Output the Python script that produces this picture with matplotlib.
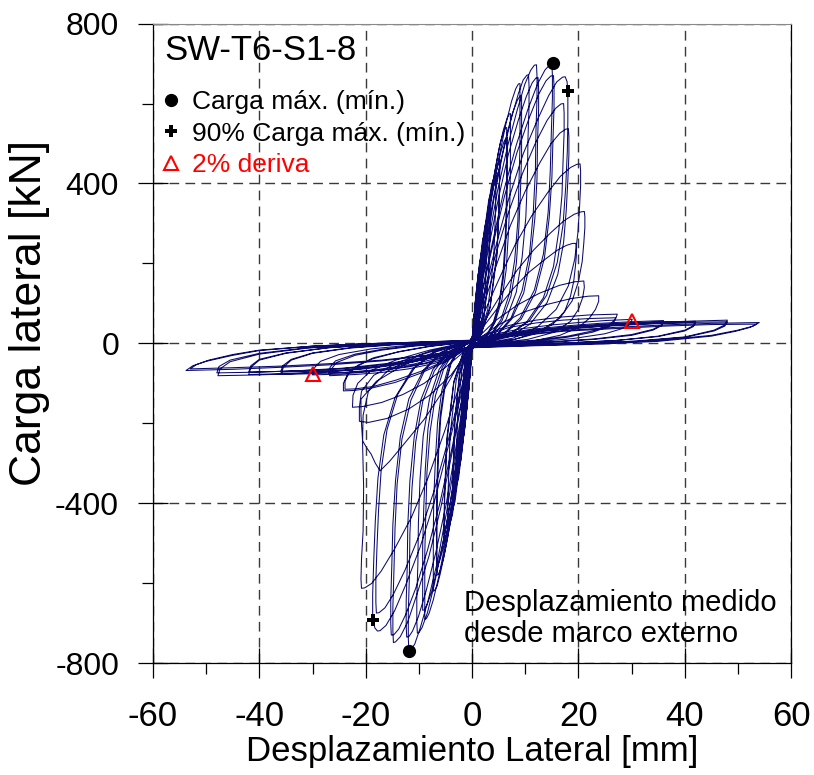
import matplotlib
matplotlib.use("Agg")
import matplotlib.pyplot as plt

# ---------------- data ----------------
x_ticks = [-60, -40, -20, 0, 20, 40, 60]
y_ticks = [-800, -400, 0, 400, 800]
x_minor = [-50, -30, -10, 10, 30, 50]
y_minor = [-600, -200, 200, 600]

# small-amplitude cycles (displacement mm, load kN)
ciclos_elasticos = [
    [(0.0, 4), (0.3, 55), (0.6, 95), (0.8, 110), (0.8, 88), (0.7, 55), (0.5, 22), (0.2, 4), (0.0, 0),
     (0.0, -5), (-0.3, -60), (-0.6, -103), (-0.8, -120), (-0.8, -96), (-0.7, -60), (-0.5, -24), (-0.2, -5), (0.0, 0)],
    [(0.0, 5), (0.35, 68), (0.7, 116), (1.0, 135), (1.0, 108), (0.9, 68), (0.65, 27), (0.3, 5), (0.05, 0),
     (0.0, -6), (-0.35, -75), (-0.7, -129), (-1.0, -150), (-1.0, -120), (-0.9, -75), (-0.65, -30), (-0.3, -6), (-0.05, 0)],
    [(0.0, 5), (0.35, 64), (0.7, 110), (1.0, 128), (1.0, 102), (0.9, 64), (0.65, 26), (0.3, 5), (0.05, 0),
     (0.0, -6), (-0.35, -71), (-0.7, -122), (-1.0, -142), (-1.0, -114), (-0.9, -71), (-0.65, -28), (-0.3, -6), (-0.05, 0)],
    [(0.05, 8), (0.56, 100), (1.12, 172), (1.6, 200), (1.57, 160), (1.44, 100), (1.04, 40), (0.48, 8), (0.08, 0),
     (-0.05, -9), (-0.6, -110), (-1.19, -189), (-1.7, -220), (-1.67, -176), (-1.53, -110), (-1.1, -44), (-0.51, -9), (-0.09, 0)],
    [(0.06, 9), (0.7, 118), (1.4, 202), (2.0, 235), (1.96, 188), (1.8, 118), (1.3, 47), (0.6, 9), (0.1, 0),
     (-0.06, -10), (-0.74, -130), (-1.47, -224), (-2.1, -260), (-2.06, -208), (-1.89, -130), (-1.37, -52), (-0.63, -10), (-0.1, 0)],
    [(0.06, 9), (0.7, 111), (1.4, 191), (2.0, 222), (1.96, 178), (1.8, 111), (1.3, 44), (0.6, 9), (0.1, 0),
     (-0.06, -10), (-0.74, -123), (-1.47, -211), (-2.1, -245), (-2.06, -196), (-1.89, -123), (-1.37, -49), (-0.63, -10), (-0.1, 0)],
    [(0.08, 12), (0.98, 150), (1.96, 258), (2.8, 300), (2.74, 240), (2.52, 150), (1.82, 60), (0.84, 12), (0.14, 0),
     (-0.09, -14), (-1.05, -170), (-2.1, -292), (-3.0, -340), (-2.94, -272), (-2.7, -170), (-1.95, -68), (-0.9, -14), (-0.15, 0)],
    [(0.1, 14), (1.19, 170), (2.38, 292), (3.4, 340), (3.33, 272), (3.06, 170), (2.21, 68), (1.02, 14), (0.17, 0),
     (-0.11, -16), (-1.26, -195), (-2.52, -335), (-3.6, -390), (-3.53, -312), (-3.24, -195), (-2.34, -78), (-1.08, -16), (-0.18, 0)],
    [(0.1, 13), (1.19, 161), (2.38, 277), (3.4, 322), (3.33, 258), (3.06, 161), (2.21, 64), (1.02, 13), (0.17, 0),
     (-0.11, -15), (-1.26, -185), (-2.52, -318), (-3.6, -370), (-3.53, -296), (-3.24, -185), (-2.34, -74), (-1.08, -15), (-0.18, 0)],
    [(0.14, 17), (1.58, 210), (3.15, 361), (4.5, 420), (4.41, 336), (4.05, 210), (2.93, 84), (1.35, 17), (0.23, 0),
     (-0.14, -18), (-1.61, -230), (-3.22, -396), (-4.6, -460), (-4.51, -368), (-4.14, -230), (-2.99, -92), (-1.38, -18), (-0.23, 0)],
    [(0.16, 18), (1.82, 230), (3.64, 396), (5.2, 460), (5.1, 368), (4.68, 230), (3.38, 92), (1.56, 18), (0.26, 0),
     (-0.16, -20), (-1.86, -250), (-3.71, -430), (-5.3, -500), (-5.19, -400), (-4.77, -250), (-3.45, -100), (-1.59, -20), (-0.27, 0)],
    [(0.16, 18), (1.82, 220), (3.64, 378), (5.2, 440), (5.1, 352), (4.68, 220), (3.38, 88), (1.56, 18), (0.26, 0),
     (-0.16, -19), (-1.86, -239), (-3.71, -411), (-5.3, -478), (-5.19, -382), (-4.77, -239), (-3.45, -96), (-1.59, -19), (-0.27, 0)],
]

# cycles around peak load
ciclos_pico = [
    [(0.2, 22), (0.8, 97), (1.6, 194), (2.6, 297), (3.6, 383), (4.6, 454), (5.3, 502), (5.9, 529), (6.3, 539), (6.5, 540),
     (6.5, 518), (6.5, 475), (6.5, 410), (6.4, 335), (6.2, 254), (5.8, 173), (5.1, 103), (3.9, 49), (2.5, 16), (1.0, 3), (0.2, -3),
     (-0.2, -23), (-0.8, -104), (-1.7, -209), (-2.6, -319), (-3.6, -412), (-4.6, -487), (-5.4, -539), (-6.0, -568), (-6.4, -579), (-6.6, -580),
     (-6.6, -557), (-6.6, -510), (-6.6, -441), (-6.5, -360), (-6.3, -273), (-5.9, -186), (-5.1, -110), (-4.0, -52), (-2.5, -17), (-1.1, -3), (-0.2, 3)],
    [(0.2, 21), (0.8, 93), (1.7, 185), (2.6, 283), (3.6, 366), (4.6, 433), (5.4, 479), (6.0, 505), (6.4, 514), (6.6, 515),
     (6.6, 494), (6.6, 453), (6.6, 391), (6.5, 319), (6.3, 242), (5.9, 165), (5.1, 98), (4.0, 46), (2.5, 15), (1.1, 3), (0.2, -3),
     (-0.2, -22), (-0.8, -100), (-1.7, -200), (-2.7, -305), (-3.7, -394), (-4.7, -466), (-5.5, -516), (-6.1, -544), (-6.5, -554), (-6.7, -555),
     (-6.7, -533), (-6.7, -488), (-6.7, -422), (-6.6, -344), (-6.4, -261), (-6.0, -178), (-5.2, -105), (-4.0, -50), (-2.5, -17), (-1.1, -3), (-0.2, 3)],
    [(0.2, 23), (0.9, 104), (1.8, 207), (2.9, 316), (4.0, 408), (5.0, 483), (5.9, 535), (6.6, 564), (7.0, 574), (7.2, 575),
     (7.2, 552), (7.2, 506), (7.2, 437), (7.1, 357), (6.8, 270), (6.4, 184), (5.6, 109), (4.3, 52), (2.7, 17), (1.2, 3), (0.2, -3),
     (-0.2, -25), (-0.9, -112), (-1.8, -223), (-2.9, -341), (-4.0, -440), (-5.1, -521), (-6.0, -577), (-6.6, -608), (-7.1, -619), (-7.3, -620),
     (-7.3, -595), (-7.3, -546), (-7.3, -471), (-7.2, -384), (-6.9, -291), (-6.5, -198), (-5.7, -118), (-4.4, -56), (-2.8, -19), (-1.2, -3), (-0.2, 3)],
    [(0.3, 26), (1.1, 117), (2.3, 234), (3.6, 358), (5.0, 462), (6.3, 546), (7.4, 605), (8.2, 637), (8.7, 649), (9.0, 650),
     (9.0, 624), (9.0, 572), (9.0, 494), (8.8, 403), (8.6, 306), (8.0, 208), (7.0, 124), (5.4, 59), (3.4, 20), (1.4, 3), (0.3, -3),
     (-0.3, -28), (-1.1, -124), (-2.2, -248), (-3.6, -380), (-4.9, -490), (-6.2, -580), (-7.3, -642), (-8.1, -676), (-8.6, -689), (-8.9, -690),
     (-8.9, -662), (-8.9, -607), (-8.9, -524), (-8.7, -428), (-8.5, -324), (-7.9, -221), (-6.9, -131), (-5.3, -62), (-3.4, -21), (-1.4, -3), (-0.3, 3)],
    [(0.3, 25), (1.1, 112), (2.3, 223), (3.7, 341), (5.1, 440), (6.5, 521), (7.6, 577), (8.5, 608), (9.0, 619), (9.3, 620),
     (9.3, 595), (9.3, 546), (9.3, 471), (9.1, 384), (8.8, 291), (8.3, 198), (7.3, 118), (5.6, 56), (3.5, 19), (1.5, 3), (0.3, -3),
     (-0.3, -27), (-1.1, -120), (-2.3, -240), (-3.7, -367), (-5.1, -474), (-6.5, -561), (-7.6, -621), (-8.5, -655), (-9.0, -667), (-9.3, -668),
     (-9.3, -641), (-9.3, -588), (-9.3, -508), (-9.1, -414), (-8.8, -314), (-8.3, -214), (-7.3, -127), (-5.6, -60), (-3.5, -20), (-1.5, -3), (-0.3, 3)],
    [(0.3, 27), (1.3, 121), (2.7, 242), (4.2, 370), (5.8, 477), (7.4, 564), (8.7, 625), (9.6, 659), (10.3, 671), (10.6, 672),
     (10.7, 645), (10.7, 591), (10.5, 511), (10.4, 417), (10.1, 316), (9.4, 215), (8.3, 128), (6.4, 60), (4.0, 20), (1.7, 3), (0.3, -3),
     (-0.3, -29), (-1.2, -131), (-2.6, -261), (-4.1, -399), (-5.7, -515), (-7.2, -609), (-8.4, -674), (-9.4, -711), (-10.0, -724), (-10.3, -725),
     (-10.4, -696), (-10.4, -638), (-10.2, -551), (-10.1, -450), (-9.8, -341), (-9.2, -232), (-8.0, -138), (-6.2, -65), (-3.9, -22), (-1.6, -4), (-0.3, 4)],
    [(0.4, 28), (1.5, 125), (3.0, 251), (4.8, 383), (6.7, 495), (8.5, 585), (9.9, 648), (11.0, 683), (11.7, 696), (12.1, 697),
     (12.2, 669), (12.2, 613), (12.0, 530), (11.9, 432), (11.5, 328), (10.8, 223), (9.4, 132), (7.3, 63), (4.6, 21), (1.9, 3), (0.4, -3),
     (-0.4, -31), (-1.4, -138), (-3.0, -276), (-4.8, -422), (-6.5, -545), (-8.3, -645), (-9.8, -714), (-10.8, -753), (-11.5, -766), (-11.9, -768),
     (-12.0, -737), (-12.0, -676), (-11.8, -584), (-11.7, -476), (-11.3, -361), (-10.6, -246), (-9.3, -146), (-7.1, -69), (-4.5, -23), (-1.9, -4), (-0.4, 4)],
    [(0.4, 27), (1.5, 120), (3.1, 239), (5.0, 366), (6.8, 472), (8.7, 559), (10.2, 618), (11.3, 652), (12.0, 664), (12.4, 665),
     (12.5, 638), (12.5, 585), (12.3, 505), (12.2, 412), (11.8, 313), (11.0, 213), (9.7, 126), (7.4, 60), (4.7, 20), (2.0, 3), (0.4, -3),
     (-0.4, -29), (-1.5, -132), (-3.1, -265), (-4.9, -404), (-6.8, -522), (-8.6, -617), (-10.1, -684), (-11.2, -720), (-11.9, -734), (-12.3, -735),
     (-12.4, -706), (-12.4, -647), (-12.2, -559), (-12.1, -456), (-11.7, -345), (-10.9, -235), (-9.6, -140), (-7.4, -66), (-4.7, -22), (-2.0, -4), (-0.4, 4)],
    [(0.5, 28), (1.8, 126), (3.8, 251), (6.0, 384), (8.3, 496), (10.5, 586), (12.3, 649), (13.7, 684), (14.6, 697), (15.0, 698),
     (15.1, 670), (15.1, 614), (14.9, 530), (14.7, 433), (14.3, 328), (13.4, 223), (11.7, 133), (9.0, 63), (5.7, 21), (2.4, 3), (0.5, -3),
     (-0.4, -30), (-1.8, -135), (-3.7, -270), (-5.9, -412), (-8.1, -532), (-10.4, -629), (-12.1, -697), (-13.5, -734), (-14.4, -747), (-14.8, -749),
     (-14.9, -719), (-14.9, -659), (-14.7, -569), (-14.5, -464), (-14.1, -352), (-13.2, -240), (-11.5, -142), (-8.9, -67), (-5.6, -22), (-2.4, -4), (-0.4, 4)],
    [(0.5, 27), (1.8, 121), (3.8, 241), (6.1, 369), (8.4, 476), (10.7, 563), (12.5, 623), (13.9, 657), (14.8, 669), (15.3, 670),
     (15.4, 643), (15.4, 590), (15.2, 509), (15.0, 415), (14.5, 315), (13.6, 214), (11.9, 127), (9.2, 60), (5.8, 20), (2.4, 3), (0.5, -3),
     (-0.5, -29), (-1.8, -131), (-3.8, -263), (-6.1, -402), (-8.4, -518), (-10.6, -613), (-12.5, -679), (-13.8, -715), (-14.7, -729), (-15.2, -730),
     (-15.3, -701), (-15.3, -642), (-15.1, -555), (-14.9, -453), (-14.4, -343), (-13.5, -234), (-11.9, -139), (-9.1, -66), (-5.8, -22), (-2.4, -4), (-0.5, 4)],
    [(0.5, 27), (2.1, 120), (4.4, 240), (7.0, 367), (9.6, 474), (12.3, 560), (14.4, 620), (15.9, 654), (17.0, 666), (17.5, 667), (17.85, 655), (18.0, 632),
     (18.0, 610), (18.0, 556), (17.9, 480), (17.6, 392), (17.1, 297), (16.0, 202), (14.0, 120), (10.8, 57), (6.8, 19), (2.9, 3), (0.5, -3),
     (-0.5, -29), (-2.1, -130), (-4.5, -259), (-7.1, -396), (-9.8, -511), (-12.5, -605), (-14.6, -670), (-16.2, -706), (-17.3, -719), (-17.8, -720), (-18.3, -712), (-18.6, -693),
     (-18.7, -686), (-18.7, -629), (-18.5, -543), (-18.2, -443), (-17.7, -336), (-16.6, -229), (-14.5, -136), (-11.2, -64), (-7.1, -21), (-3.0, -4), (-0.6, 4)],
    [(0.5, 24), (2.1, 108), (4.3, 216), (6.9, 330), (9.5, 426), (12.0, 504), (14.1, 558), (15.7, 588), (16.7, 599), (17.2, 600),
     (17.3, 576), (17.3, 528), (17.1, 456), (16.9, 372), (16.3, 282), (15.3, 192), (13.4, 114), (10.3, 54), (6.5, 18), (2.8, 3), (0.5, -3),
     (-0.5, -27), (-2.2, -122), (-4.5, -243), (-7.2, -371), (-9.9, -479), (-12.6, -567), (-14.8, -628), (-16.4, -662), (-17.5, -674), (-18.0, -675),
     (-18.1, -648), (-18.1, -594), (-17.9, -513), (-17.6, -419), (-17.1, -317), (-16.0, -216), (-14.0, -128), (-10.8, -61), (-6.8, -20), (-2.9, -3), (-0.5, 3)],
    [(0.5, 21), (2.2, 97), (4.5, 193), (7.2, 295), (10.0, 381), (12.7, 451), (14.8, 499), (16.5, 526), (17.6, 536), (18.1, 537),
     (18.2, 516), (18.2, 473), (18.0, 408), (17.7, 333), (17.2, 252), (16.1, 172), (14.1, 102), (10.9, 48), (6.9, 16), (2.9, 3), (0.5, -3),
     (-0.6, -25), (-2.5, -110), (-5.2, -221), (-8.3, -337), (-11.4, -435), (-14.6, -515), (-17.1, -570), (-18.9, -601), (-20.2, -612), (-20.8, -613),
     (-20.9, -590), (-20.8, -540), (-20.5, -470), (-20.4, -360), (-20.6, -250), (-20.5, -180), (-19.5, -120), (-16.0, -70), (-10.0, -30), (-4.0, -7), (0.0, 4)],
]

# cycles with strength degradation
ciclos_degradados = [
    [(0.6, 18), (2.4, 81), (5.1, 162), (8.1, 247), (11.2, 319), (14.2, 377), (16.6, 418), (18.5, 440), (19.7, 448), (20.3, 449),
     (20.4, 431), (20.4, 395), (20.2, 341), (19.9, 278), (19.3, 211), (18.1, 144), (15.8, 85), (12.2, 40), (7.7, 13), (3.2, 2), (0.6, -2),
     (-2.0, -40), (-5.0, -110), (-9.0, -190), (-13.0, -255), (-15.5, -295), (-17.3, -319), (-18.2, -300),
     (-19.0, -277), (-19.8, -262), (-20.6, -244), (-20.9, -180), (-20.9, -140), (-18.0, -95), (-13.0, -55),
     (-7.0, -22), (-2.0, -3)],
    [(0.6, 13), (2.5, 59), (5.3, 119), (8.4, 182), (11.6, 234), (14.8, 277), (17.3, 307), (19.2, 323), (20.5, 329), (21.1, 330),
     (21.2, 317), (21.2, 290), (21.0, 251), (20.7, 205), (20.0, 155), (18.8, 106), (16.5, 63), (12.7, 30), (8.0, 10), (3.4, 2), (0.6, -2),
     (-1.0, -25), (-4.0, -80), (-8.0, -130), (-12.0, -165), (-16.0, -188), (-19.5, -198), (-21.2, -195),
     (-21.2, -160), (-20.8, -120), (-18.5, -80), (-14.0, -48), (-8.0, -20), (-3.0, -4), (0.0, 2)],
    [(0.6, 10), (2.3, 45), (4.9, 90), (7.8, 138), (10.7, 178), (13.7, 210), (16.0, 233), (17.7, 245), (18.9, 250), (19.5, 250),
     (19.6, 240), (19.6, 220), (19.4, 190), (19.1, 155), (18.5, 118), (17.4, 80), (15.2, 48), (11.7, 23), (7.4, 8), (3.1, 1), (0.6, -1),
     (-1.0, -15), (-5.0, -60), (-9.0, -100), (-13.0, -128), (-17.0, -148), (-20.5, -158), (-22.5, -160),
     (-22.4, -130), (-21.5, -100), (-19.0, -68), (-14.0, -40), (-8.0, -17), (-3.0, -3), (0.0, 3)],
    [(0.6, 8), (4.2, 55), (8.4, 95), (12.6, 125), (16.4, 145), (19.3, 154), (21.0, 156),
     (21.1, 140), (20.8, 115), (20.0, 85), (18.5, 55), (15.5, 28), (10.5, 10), (5.3, 2), (1.3, -3),
     (-0.7, -8), (-4.8, -45), (-9.7, -75), (-14.5, -98), (-18.9, -112), (-22.3, -118), (-24.2, -119),
     (-24.2, -100), (-23.5, -80), (-22.0, -60), (-19.0, -40), (-14.0, -22), (-8.0, -8), (-3.0, 0), (0.0, 4)],
    [(0.7, 6), (4.8, 45), (9.5, 77), (14.3, 98), (18.6, 112), (21.9, 118), (23.8, 119),
     (23.8, 105), (23.2, 85), (22.0, 62), (20.0, 40), (16.5, 20), (11.5, 6), (6.0, 0), (1.5, -3),
     (-0.7, -8), (-4.8, -42), (-9.6, -70), (-14.3, -92), (-18.6, -108), (-22.0, -114), (-23.9, -115),
     (-23.9, -95), (-23.2, -75), (-21.5, -55), (-18.5, -36), (-13.5, -20), (-8.0, -7), (-3.0, 0), (0.0, 4)],
]

# large-displacement residual cycles
ciclos_residuales = [
    [(3, 25), (7, 45), (12, 58), (17, 66), (22, 71), (27.3, 73),
     (27.0, 62), (26, 48), (23, 32), (18, 18), (12, 8), (6, 2), (0, -6),
     (-3, -30), (-7, -50), (-12, -64), (-17, -73), (-22, -78), (-26.8, -81),
     (-26.5, -65), (-25.5, -48), (-22, -30), (-17, -17), (-11, -7), (-5, -1), (0, 4)],
    [(3, 22), (7, 40), (12, 51), (17, 58), (22, 62), (27, 64),
     (26.7, 54), (25.7, 42), (22.7, 28), (17.8, 15), (12, 6), (6, 1), (0, -6),
     (-3, -27), (-7, -46), (-12, -59), (-17, -67), (-22, -72), (-27, -74),
     (-26.7, -60), (-25.7, -44), (-22, -27), (-17, -15), (-11, -6), (-5, 0), (0, 4)],
    [(4, 22), (9, 36), (15, 46), (20, 52), (25, 57), (30.1, 60),
     (29.8, 50), (28.5, 38), (25, 24), (19, 12), (12, 4), (6, 0), (0, -6),
     (-4, -30), (-9, -50), (-15, -64), (-20, -72), (-25, -77), (-30, -79),
     (-29.7, -62), (-28.5, -45), (-25, -28), (-19, -14), (-12, -5), (-6, 0), (0, 5)],
    [(5, 22), (11, 35), (18, 44), (24, 50), (30, 54), (36, 57),
     (35.6, 46), (34, 35), (30, 22), (23, 11), (15, 4), (7, 0), (0, -6),
     (-5, -32), (-11, -52), (-18, -66), (-24, -73), (-30, -76), (-35.9, -78),
     (-35.5, -60), (-34, -42), (-30, -25), (-23, -12), (-15, -4), (-7, 1), (0, 5)],
    [(5, 20), (11, 32), (18, 41), (24, 47), (30, 51), (36, 54),
     (35.6, 44), (34, 33), (30, 20), (23, 10), (15, 3), (7, -1), (0, -6),
     (-5, -28), (-11, -46), (-18, -59), (-24, -66), (-30, -70), (-36, -72),
     (-35.6, -56), (-34, -40), (-30, -24), (-23, -11), (-15, -3), (-7, 1), (0, 5)],
    [(6, 22), (13, 34), (21, 43), (28, 49), (35, 53), (42, 55),
     (41.6, 44), (40, 33), (35, 18), (27, 7), (18, 1), (9, -3), (0, -7),
     (-6, -32), (-13, -52), (-21, -65), (-28, -72), (-35, -76), (-42, -78),
     (-41.6, -60), (-40, -42), (-35, -25), (-27, -11), (-18, -3), (-9, 2), (0, 6)],
    [(6, 20), (13, 31), (21, 40), (28, 46), (35, 50), (42, 52),
     (41.6, 42), (40, 31), (35, 17), (27, 7), (18, 1), (9, -3), (0, -7),
     (-6, -29), (-13, -48), (-21, -60), (-28, -66), (-35, -70), (-42, -72),
     (-41.6, -56), (-40, -40), (-35, -24), (-27, -11), (-18, -3), (-9, 2), (0, 6)],
    [(7, 22), (15, 36), (24, 45), (32, 51), (40, 55), (48, 58),
     (47.5, 46), (45.5, 33), (40, 16), (31, 6), (21, 0), (10, -3), (0, -7),
     (-7, -33), (-15, -54), (-24, -68), (-32, -75), (-40, -79), (-47.8, -81),
     (-47.4, -64), (-45.5, -46), (-40, -27), (-31, -12), (-21, -4), (-10, 2), (0, 6)],
    [(7, 20), (15, 33), (24, 42), (32, 48), (40, 52), (48, 54),
     (47.5, 43), (45.5, 31), (40, 15), (31, 5), (21, -1), (10, -4), (0, -8),
     (-7, -30), (-15, -49), (-24, -62), (-32, -68), (-40, -72), (-48, -74),
     (-47.6, -58), (-45.5, -42), (-40, -25), (-31, -11), (-21, -3), (-10, 2), (0, 6)],
    [(8, 20), (17, 32), (27, 40), (36, 46), (45, 50), (54, 52),
     (52.8, 43), (50, 33), (45, 20), (35, 7), (24, 0), (12, -5), (0, -10),
     (-8, -30), (-17, -44), (-27, -54), (-36, -60), (-45, -65), (-53.8, -68),
     (-52.5, -56), (-50, -45), (-45, -30), (-40, -18), (-30, -7), (-20, -1), (-10, 3), (0, 8)],
    [(8, 18), (17, 30), (27, 37), (36, 43), (45, 47), (53.5, 48),
     (52.3, 40), (49.5, 30), (45, 18), (35, 5), (24, -2), (12, -6), (0, -11),
     (-8, -29), (-17, -42), (-27, -51), (-36, -57), (-45, -61), (-53, -64),
     (-51.8, -53), (-49.5, -42), (-45, -28), (-40, -17), (-30, -7), (-20, -1), (-10, 3), (0, 7)],
]

carga_max_x = [15.2, -11.9]
carga_max_y = [702, -770]
carga90_x = [18.0, -18.6]
carga90_y = [632, -693]
deriva_x = [30.0, -30.0]
deriva_y = [55, -76]

# ---------------- figure ----------------
FONT = ['Liberation Sans', 'DejaVu Sans']
CURVE = '#0a0a6e'

fig = plt.figure(figsize=(8.14, 7.75), dpi=100)
ax = fig.add_axes([0.188, 0.1445, 0.784, 0.825])

xs, ys = [], []
for grupo in (ciclos_elasticos, ciclos_pico, ciclos_degradados, ciclos_residuales):
    for ciclo in grupo:
        for (px, py) in ciclo:
            xs.append(px)
            ys.append(py)
ax.plot(xs, ys, color=CURVE, lw=0.75, zorder=3, solid_joinstyle='round')

ax.plot(carga_max_x, carga_max_y, 'o', color='black', ms=8.5, ls='none', zorder=5,
        label='Carga máx. (mín.)')
ax.plot(carga90_x, carga90_y, 'P', color='black', ms=8, ls='none', zorder=5,
        markeredgewidth=0, label='90% Carga máx. (mín.)')
ax.plot(deriva_x, deriva_y, '^', mfc='none', mec='red', ms=10, mew=1.5, ls='none', zorder=5,
        label='2% deriva')

ax.set_xlim(-60, 60)
ax.set_ylim(-800, 800)
ax.set_xticks(x_ticks)
ax.set_yticks(y_ticks)
ax.set_xticks(x_minor, minor=True)
ax.set_yticks(y_minor, minor=True)
ax.set_xticklabels([str(v) for v in x_ticks])
ax.set_yticklabels([str(v) for v in y_ticks])

ax.grid(True, which='major', ls=(0, (7, 4.5)), color='#3a3a3a', lw=1.0, zorder=1)
ax.set_axisbelow(True)

ax.tick_params(which='major', direction='inout', length=21, width=0.9)
ax.tick_params(axis='x', which='major', pad=16)
ax.tick_params(axis='y', which='major', pad=14)
ax.tick_params(which='minor', direction='out', length=8, width=0.9)
for lab in ax.get_xticklabels():
    lab.set_fontfamily(FONT)
    lab.set_fontsize(25)
for lab in ax.get_yticklabels():
    lab.set_fontfamily(FONT)
    lab.set_fontsize(23)

for s in ['left', 'bottom', 'right']:
    ax.spines[s].set_linewidth(0.9)
ax.spines['top'].set_color('#888888')
ax.spines['top'].set_linewidth(0.8)

ax.set_xlabel('Desplazamiento Lateral [mm]', family=FONT, fontsize=25)
ax.xaxis.label.set_va('center')
ax.xaxis.set_label_coords(0.5, -0.139)
ax.set_ylabel('Carga lateral [kN]', family=FONT, fontsize=32)
ax.yaxis.label.set_va('center')
ax.yaxis.label.set_ha('center')
ax.yaxis.set_label_coords(-0.194, 0.548)

ax.text(0.017, 0.984, 'SW-T6-S1-8', transform=ax.transAxes, family=FONT, fontsize=25,
        va='top', ha='left')
leg = ax.legend(loc='upper left', bbox_to_anchor=(0.005, 0.904), frameon=False,
                prop={'family': FONT, 'size': 19}, handlelength=0.7, handletextpad=0.45,
                labelspacing=0.28, borderaxespad=0.0, borderpad=0.2)
leg.get_texts()[2].set_color('red')

ax.text(0.488, 0.07, 'Desplazamiento medido\ndesde marco externo', transform=ax.transAxes,
        family=FONT, fontsize=21, va='center', ha='left', linespacing=1.15)

fig.savefig('out.png', dpi=100)
